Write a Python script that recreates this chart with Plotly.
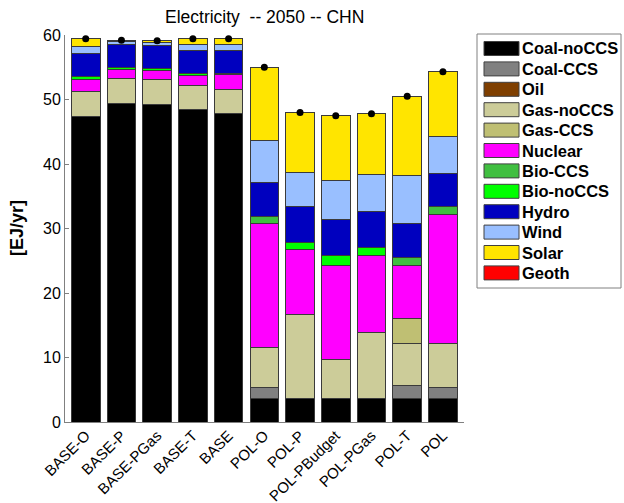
import plotly.graph_objects as go

scenarios = ["BASE-O", "BASE-P", "BASE-PGas", "BASE-T", "BASE",
             "POL-O", "POL-P", "POL-PBudget", "POL-PGas", "POL-T", "POL"]

coal_noccs = [47.4, 49.4, 49.3, 48.5, 47.8, 3.7, 3.7, 3.7, 3.7, 3.7, 3.7]
coal_ccs   = [0, 0, 0, 0, 0, 1.6, 0, 0, 0, 1.9, 1.6]
oil        = [0, 0, 0, 0, 0, 0, 0, 0, 0, 0, 0]
gas_noccs  = [3.8, 3.9, 3.8, 3.7, 3.8, 6.3, 13.0, 6.0, 10.1, 6.5, 6.8]
gas_ccs    = [0, 0, 0, 0, 0, 0, 0, 0, 0, 3.9, 0]
nuclear    = [1.9, 1.4, 1.4, 1.5, 2.2, 19.1, 10.1, 14.6, 12.0, 8.3, 20.0]
bio_ccs    = [0, 0, 0, 0, 0, 1.2, 0, 0, 0, 1.2, 1.3]
bio_noccs  = [0.4, 0.3, 0.3, 0.3, 0.3, 0, 1.1, 1.5, 1.3, 0, 0]
hydro      = [3.6, 3.6, 3.5, 3.6, 3.5, 5.2, 5.5, 5.6, 5.5, 5.3, 5.1]
wind       = [1.1, 0.4, 0.6, 1.0, 1.0, 6.6, 5.3, 6.1, 5.7, 7.4, 5.8]
solar      = [1.2, 0.2, 0.2, 0.8, 0.8, 11.3, 9.3, 10.0, 9.5, 12.3, 10.0]
geoth      = [0, 0, 0, 0, 0, 0, 0, 0, 0, 0, 0]

tech_names = ["Coal-noCCS", "Coal-CCS", "Oil", "Gas-noCCS", "Gas-CCS", "Nuclear",
              "Bio-CCS", "Bio-noCCS", "Hydro", "Wind", "Solar", "Geoth"]
tech_values = [coal_noccs, coal_ccs, oil, gas_noccs, gas_ccs, nuclear,
               bio_ccs, bio_noccs, hydro, wind, solar, geoth]
tech_colors = ["#000000", "#808080", "#7F3F00", "#CCCC99", "#BFBF73", "#FF00FF",
               "#40BF40", "#00FF00", "#0000BF", "#99BFFF", "#FFE500", "#FF0000"]

totals = [round(sum(v[i] for v in tech_values), 2) for i in range(len(scenarios))]

FONT = "Liberation Sans, Arial, sans-serif"
W, H = 624, 503
L, R, T, B = 65, 464, 35, 422  # plot area in px

fig = go.Figure()
for name, vals, col in zip(tech_names, tech_values, tech_colors):
    fig.add_trace(go.Bar(
        x=scenarios, y=vals, name=name, width=0.8,
        marker=dict(color=col, line=dict(color="#3a3a3a", width=1)),
        showlegend=False, hoverinfo="name+y"))

fig.add_trace(go.Scatter(
    x=scenarios, y=totals, mode="markers",
    marker=dict(color="black", size=7), showlegend=False))

def px2x(px):
    return (px - L) / (R - L)

def px2y(py):
    return (B - py) / (B - T)

shapes = []
annotations = []
# legend box
shapes.append(dict(type="rect", xref="paper", yref="paper",
                   x0=px2x(477), x1=px2x(621), y0=px2y(288), y1=px2y(34),
                   line=dict(color="#808080", width=1), fillcolor="white"))
for i, (name, col) in enumerate(zip(tech_names, tech_colors)):
    cy = 48.5 + i * 20.4
    shapes.append(dict(type="rect", xref="paper", yref="paper",
                       x0=px2x(484), x1=px2x(519), y0=px2y(cy + 7), y1=px2y(cy - 7),
                       line=dict(color="#404040", width=1), fillcolor=col))
    annotations.append(dict(xref="paper", yref="paper", x=px2x(520), y=px2y(cy),
                            xanchor="left", yanchor="middle", showarrow=False,
                            text="<b>%s</b>" % name,
                            font=dict(family=FONT, size=16.5, color="black")))

# y axis title
annotations.append(dict(xref="paper", yref="paper", x=px2x(17), y=px2y(228),
                        xanchor="center", yanchor="middle", showarrow=False,
                        textangle=-90, text="<b>[EJ/yr]</b>",
                        font=dict(family=FONT, size=18, color="black")))
# title
annotations.append(dict(xref="paper", yref="paper", x=px2x(264), y=px2y(17),
                        xanchor="center", yanchor="middle", showarrow=False,
                        text="Electricity  -- 2050 -- CHN",
                        font=dict(family=FONT, size=17.5, color="black")))

fig.update_layout(
    width=W, height=H,
    margin=dict(l=L, r=W - R, t=T, b=H - B, pad=0),
    barmode="stack", bargap=0.2,
    plot_bgcolor="white", paper_bgcolor="white",
    xaxis=dict(type="category", range=[-0.58, 10.59], tickangle=-45,
               automargin=False, ticklabelstandoff=-2,
               showline=True, linecolor="#808080", linewidth=1, ticks="",
               tickfont=dict(family=FONT, size=15, color="black"),
               showgrid=False, zeroline=False),
    yaxis=dict(range=[0, 60], tickvals=[0, 10, 20, 30, 40, 50, 60],
               automargin=False,
               showline=True, linecolor="#808080", linewidth=1,
               ticks="inside", ticklen=4, tickcolor="#808080",
               tickfont=dict(family=FONT, size=16, color="black"),
               tickprefix="<b>", ticksuffix="</b>",
               showgrid=False, zeroline=False),
    shapes=shapes, annotations=annotations,
    showlegend=False,
)

fig.write_html(
    "out.html",
    config={"displayModeBar": False},
    post_script="document.body.style.margin='0px';document.body.style.overflow='hidden';",
)
